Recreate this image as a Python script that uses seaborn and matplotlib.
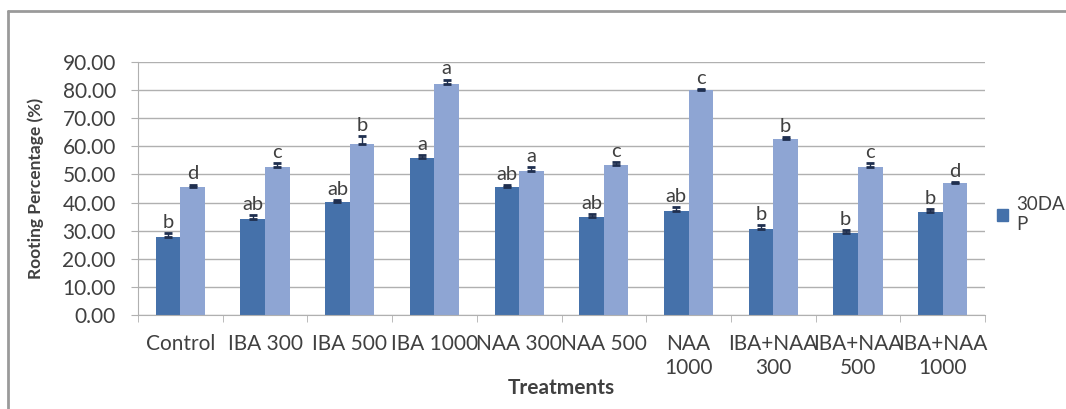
import matplotlib
matplotlib.use('Agg')
import matplotlib.pyplot as plt
import matplotlib.patches as mpatches
from matplotlib.lines import Line2D
import pandas as pd
import seaborn as sns

treatments = ['Control', 'IBA 300', 'IBA 500', 'IBA 1000', 'NAA 300', 'NAA 500',
              'NAA\n1000', 'IBA+NAA\n300', 'IBA+NAA\n500', 'IBA+NAA\n1000']
dap30 = [27.6, 34.2, 40.1, 55.7, 45.4, 34.7, 37.1, 30.6, 29.1, 36.5]
dap60 = [45.4, 52.8, 61.0, 82.1, 51.2, 53.4, 80.1, 62.5, 52.8, 46.9]
err30 = [1.4, 1.2, 0.8, 1.3, 0.9, 1.3, 1.2, 1.3, 1.0, 1.2]
err60 = [1.0, 1.3, 2.5, 1.6, 1.5, 1.0, 0.3, 0.8, 1.3, 0.4]
let30 = ['b', 'ab', 'ab', 'a', 'ab', 'ab', 'ab', 'b', 'b', 'b']
let60 = ['d', 'c', 'b', 'a', 'a', 'c', 'c', 'b', 'c', 'd']
series = ['30DAP', '60DAP']

dark = '#4571aa'
light = '#8ea5d3'
txt = '#404040'

df = pd.DataFrame({
    'treatment': treatments * 2,
    'value': dap30 + dap60,
    'series': [series[0]] * len(treatments) + [series[1]] * len(treatments),
})

sns.set_style('white')
plt.rcParams['font.family'] = ['Lato', 'DejaVu Sans']

fig = plt.figure(figsize=(10.66, 4.09), dpi=100)
ax = fig.add_axes([138 / 1066, 1 - 315 / 409, (985 - 138) / 1066, (315 - 62) / 409])

sns.barplot(data=df, x='treatment', y='value', hue='series', palette=[dark, light],
            width=0.58, ax=ax, legend=False, saturation=1, edgecolor='none')

for cont, errs, lets in zip(ax.containers, [err30, err60], [let30, let60]):
    for bar, e, lt in zip(cont, errs, lets):
        cx = bar.get_x() + bar.get_width() / 2
        h = bar.get_height()
        ax.errorbar(cx, h, yerr=[[0], [e]], color='#1f2f4f', capsize=3,
                    elinewidth=1, capthick=2, zorder=4)
        ax.text(cx, h + e + 0.8, lt, ha='center', va='bottom', fontsize=14.5,
                color=txt)

ax.set_ylim(0, 90)
ax.set_xlim(-0.5, len(treatments) - 0.5)
ax.set_yticks(range(0, 91, 10))
ax.set_yticklabels([f'{v:.2f}' for v in range(0, 91, 10)], fontsize=15, color=txt)
ax.yaxis.grid(True, color='#b0b0b0', linewidth=1)
ax.set_axisbelow(True)
ax.tick_params(axis='y', length=5, color='#b0b0b0', pad=11, left=True)
ax.tick_params(axis='x', length=0, labelsize=15, labelcolor=txt, pad=14)
ax.set_xticks([i - 0.5 for i in range(len(treatments) + 1)], minor=True)
ax.tick_params(axis='x', which='minor', length=5, color='#b0b0b0', bottom=True)

for s in ['top', 'right']:
    ax.spines[s].set_visible(False)
for s in ['left', 'bottom']:
    ax.spines[s].set_color('#b0b0b0')

ax.set_xlabel('Treatments', fontsize=15, fontweight='bold', color=txt, labelpad=0)
ax.set_ylabel('Rooting Percentage (%)', fontsize=12.5, fontweight='bold', color=txt,
              labelpad=13)

handle = mpatches.Patch(color=dark)
fig.legend([handle], ['30DA\nP'], loc='center left', bbox_to_anchor=(0.919, 0.475),
           frameon=False, handlelength=0.6, handleheight=0.6, handletextpad=0.45,
           fontsize=13.5, labelcolor=txt)

# outer chart frame
fig.add_artist(Line2D([8 / 1066, 8 / 1066], [0, 1 - 11 / 409], color='#9a9a9a', lw=2,
                      transform=fig.transFigure))
fig.add_artist(Line2D([8 / 1066, 1], [1 - 11 / 409, 1 - 11 / 409], color='#9a9a9a', lw=2,
                      transform=fig.transFigure))

fig.savefig('out.png', dpi=100)
